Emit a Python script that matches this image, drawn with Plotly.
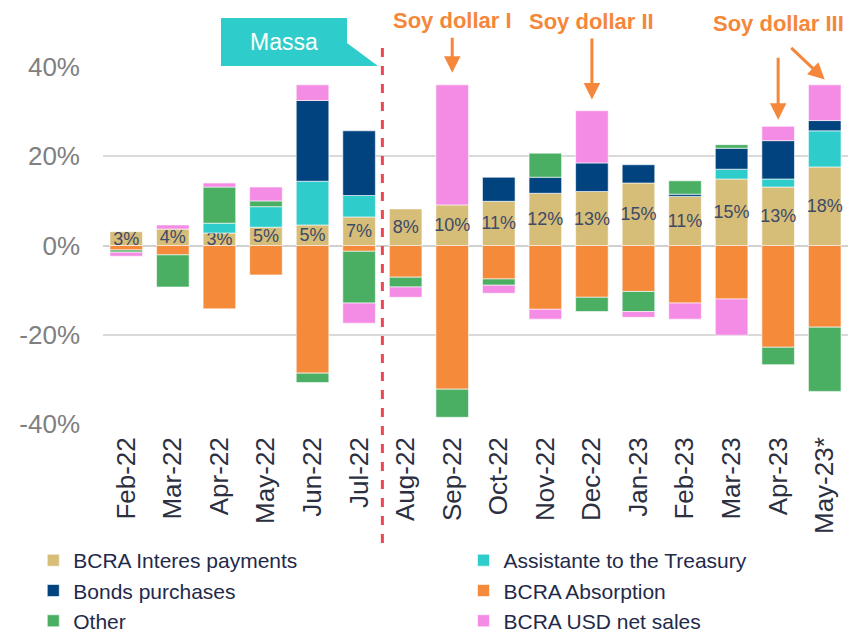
import plotly.graph_objects as go

# months on the x axis
months = ['Feb-22', 'Mar-22', 'Apr-22', 'May-22', 'Jun-22', 'Jul-22', 'Aug-22',
          'Sep-22', 'Oct-22', 'Nov-22', 'Dec-22', 'Jan-23', 'Feb-23', 'Mar-23',
          'Apr-23', 'May-23*']

# % of monetary base (None = no bar)
interest = [3.1, 3.7, 2.8, 4.1, 4.6, 6.4, 8.2, 9.1, 9.9, 11.7, 12.1, 14.0, 11.0, 14.9, 13.1, 17.6]
interest_labels = ['3%', '4%', '3%', '5%', '5%', '7%', '8%', '10%', '11%', '12%', '13%',
                   '15%', '11%', '15%', '13%', '18%']
assistance = [None, None, 2.2, 4.6, 9.8, 4.8, None, None, None, None, None, None, None, 2.2, 1.8, 8.1]
bonds = [None, None, None, None, 18.1, 14.5, None, None, 5.4, 3.6, 6.4, 4.1, 0.5, 4.7, 8.6, 2.3]
absorption = [-1.0, -2.1, -14.2, -6.6, -28.6, -1.3, -7.1, -32.2, -7.5, -14.3, -11.6, -10.3,
              -12.9, -12.0, -22.8, -18.3]
other = [-0.5, -7.2, 8.1, 1.3, -2.1, -11.6, -2.2, -6.3, -1.4, 5.4, -3.2, -4.5, 3.0, 0.8, -3.9, -14.4]
usd_sales = [-0.9, 0.9, 0.9, 3.1, 3.5, -4.5, -2.3, 26.9, -1.8, -2.2, 11.7, -1.3, -3.6, -8.1, 3.2, 8.0]

y_ticks = [-40, -20, 0, 20, 40]
y_tick_labels = ['-40%', '-20%', '0%', '20%', '40%']

FONT = 'Liberation Sans, Arial, sans-serif'
ORANGE = '#f5873a'

# (name, values, colour, legend column)
series = [
    ('BCRA Interes payments', interest, '#d6bd78', 'legend'),
    ('Assistante to the Treasury', assistance, '#2ecdcc', 'legend2'),
    ('Bonds purchases', bonds, '#00437f', 'legend'),
    ('BCRA Absorption', absorption, '#f58a3b', 'legend2'),
    ('Other', other, '#4aae63', 'legend'),
    ('BCRA USD net sales', usd_sales, '#f48be4', 'legend2'),
]

fig = go.Figure()
for name, vals, col, leg in series:
    kw = {}
    if name == 'BCRA Interes payments':
        kw = dict(text=interest_labels, textposition='inside', insidetextanchor='middle',
                  textangle=0, constraintext='none',
                  textfont=dict(family=FONT, size=18, color='#3d4a68'))
    fig.add_trace(go.Bar(x=months, y=vals, name=name, legend=leg,
                         marker=dict(color=col, line=dict(color='white', width=0.6)),
                         **kw))

# Massa callout and the dashed separator
fig.add_shape(type='path', xref='paper', yref='paper',
              path='M 0.1584,1.1373 L 0.3275,1.1373 L 0.3275,1.067 L 0.3691,1.0028 L 0.1584,1.0028 Z',
              fillcolor='#2ecdcc', line=dict(width=0), layer='above')
fig.add_annotation(xref='paper', yref='paper', x=0.2430, y=1.0700, text='Massa',
                   xanchor='center', yanchor='middle',
                   showarrow=False, font=dict(family=FONT, size=23, color='white'))
fig.add_shape(type='line', xref='x', yref='paper', x0=5.5, x1=5.5, y0=-0.333, y1=1.078,
              line=dict(color='#ef4651', width=3, dash='dash'), layer='above')

# soy dollar arrows
arrow = dict(showarrow=True, arrowhead=2, arrowsize=1.1, arrowwidth=3, arrowcolor=ORANGE,
             font=dict(family=FONT, size=22, color=ORANGE, weight='bold'), ax=0)
fig.add_annotation(x='Sep-22', y=38.7, text='Soy dollar I', ay=-52, startstandoff=3, **arrow)
fig.add_annotation(x='Dec-22', y=32.7, text='Soy dollar II', ay=-78, startstandoff=3, **arrow)
fig.add_annotation(x='Apr-23', y=28.2, text='Soy dollar III', ay=-96, startstandoff=20, **arrow)
arrow2 = dict(arrow, ax=-35)
fig.add_annotation(x='May-23*', y=37.2, text='', ay=-33, **arrow2)

legend_style = dict(orientation='v', xanchor='left', y=-0.325, yanchor='top',
                    traceorder='normal', font=dict(family=FONT, size=21, color='#1f2a4a'),
                    tracegroupgap=0, itemclick=False, bgcolor='rgba(0,0,0,0)')

# small category ticks hanging under the zero line
boundaries = [i - 0.5 for i in range(len(months) + 1)]

fig.update_layout(
    barmode='relative',
    bargap=0.3,
    width=840, height=628,
    margin=dict(l=95, r=0, t=59, b=212, autoexpand=False),
    plot_bgcolor='white', paper_bgcolor='white',
    font=dict(family=FONT),
    showlegend=True,
    legend=dict(x=-0.0936, **legend_style),
    legend2=dict(x=0.4839, **legend_style),
    xaxis=dict(tickangle=-90, tickfont=dict(family=FONT, size=26, color='#2b2f3f'),
               showgrid=False, showline=False, ticks='', automargin=False,
               ticklabelstandoff=7),
    xaxis2=dict(overlaying='x', anchor='free', position=0.5, side='bottom',
                range=[boundaries[0], boundaries[-1]], tickvals=boundaries,
                ticks='outside', ticklen=7, tickwidth=1.5, tickcolor='#cfcfcf',
                showticklabels=False, showgrid=False, showline=False, zeroline=False),
    yaxis=dict(range=[-40, 40], tickvals=y_ticks, ticktext=y_tick_labels,
               tickfont=dict(family=FONT, size=26, color='#808080'),
               showgrid=True, gridcolor='#d9d9d9', gridwidth=1.5,
               zeroline=True, zerolinecolor='#d0d0d0', zerolinewidth=1.5,
               ticklabelstandoff=22, automargin=False),
)

fig.write_html('out.html')
